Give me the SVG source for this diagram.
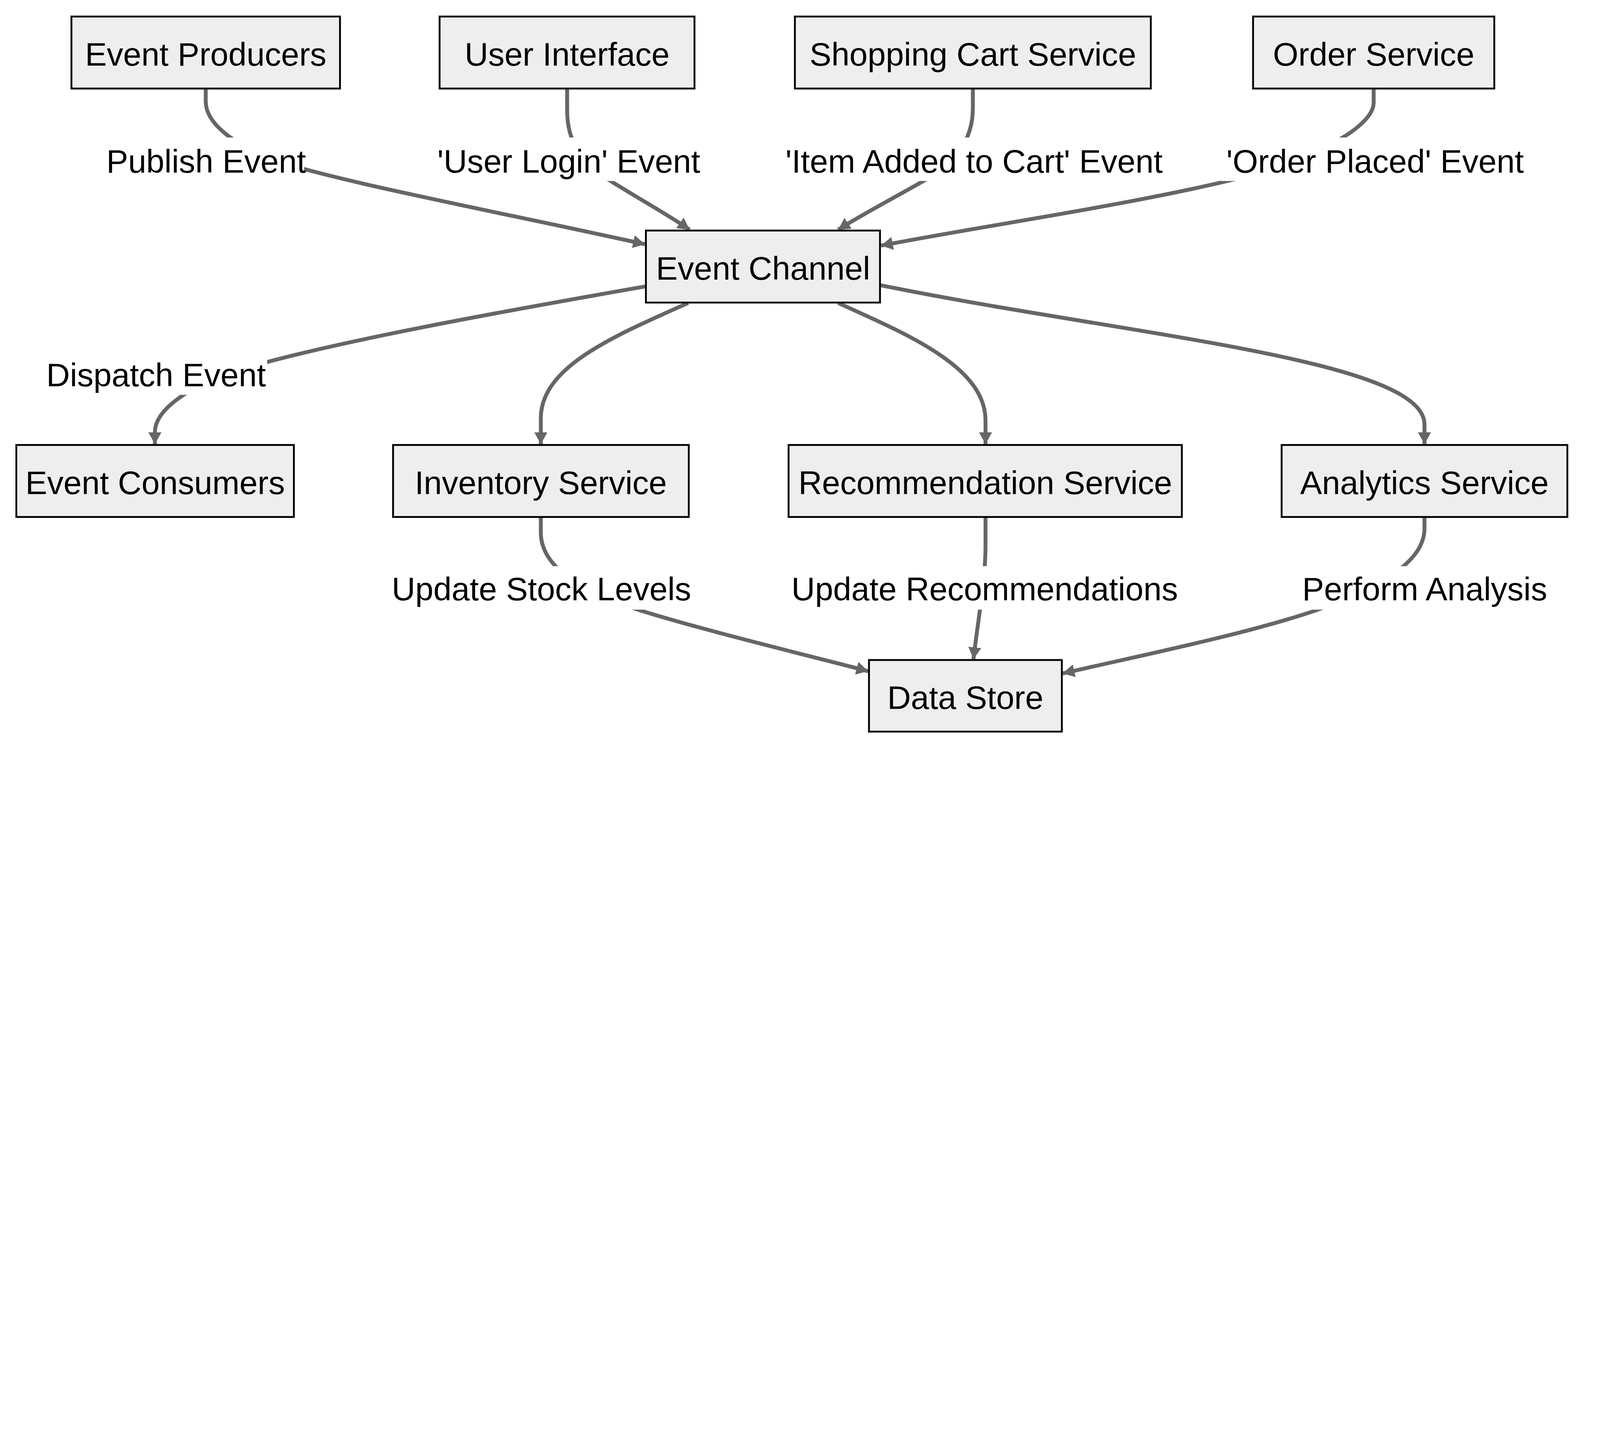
<svg xmlns="http://www.w3.org/2000/svg" width="7840" height="3710" viewBox="0 0 7840 3710" style="width:100%;height:auto">
<defs>
<style>
.node rect{fill:#eeeeee;stroke:#000000;stroke-width:9}
.node text,.lbl text{font-family:"Liberation Sans",Arial,sans-serif;font-size:160px;fill:#000;text-anchor:middle}
.edge{fill:none;stroke:#666666;stroke-width:19}
.lbl rect{fill:#ffffff;stroke:none}
</style>
<marker id="arrow" viewBox="0 0 10 10" refX="10" refY="5" markerWidth="58" markerHeight="64" markerUnits="userSpaceOnUse" orient="auto" preserveAspectRatio="none">
<path d="M0,0 L10,5 L0,10 z" fill="#666666"/>
</marker>
</defs>
<rect width="7840" height="3710" fill="#ffffff"/>
<g id="connectors">
<path class="edge" marker-end="url(#arrow)" d="M1008,435 L1008,497 C1008,610 1150,700 1300,770 C1600,880 2400,1030 3160,1197"/>
<path class="edge" marker-end="url(#arrow)" d="M2779,435 L2779,540 C2779,700 2850,800 3000,892 C3150,985 3300,1070 3379,1126"/>
<path class="edge" marker-end="url(#arrow)" d="M4767,435 L4767,530 C4767,690 4680,800 4520,890 C4380,970 4200,1065 4107,1126"/>
<path class="edge" marker-end="url(#arrow)" d="M6731,435 L6731,503 C6731,620 6450,780 6024,885 C5500,1010 4800,1110 4317,1204"/>
<path class="edge" marker-end="url(#arrow)" d="M3162,1404 C2500,1520 1600,1680 1150,1820 C950,1885 759,2000 759,2118 L759,2177"/>
<path class="edge" marker-end="url(#arrow)" d="M3372,1485 C3000,1650 2650,1800 2650,2050 L2650,2177"/>
<path class="edge" marker-end="url(#arrow)" d="M4107,1485 C4450,1640 4829,1800 4829,2060 L4829,2177"/>
<path class="edge" marker-end="url(#arrow)" d="M4315,1398 C5500,1640 6980,1760 6980,2080 L6980,2177"/>
<path class="edge" marker-end="url(#arrow)" d="M2650,2536 L2650,2610 C2650,2780 2850,2900 3135,2991 C3450,3090 3950,3210 4254,3290"/>
<path class="edge" marker-end="url(#arrow)" d="M4829,2536 L4829,2670 C4829,2850 4790,3050 4770,3231"/>
<path class="edge" marker-end="url(#arrow)" d="M6980,2536 L6980,2590 C6980,2760 6750,2880 6451,2991 C6100,3110 5600,3210 5207,3301"/>
<g class="lbl"><rect x="530" y="674" width="960" height="213"/><text x="1010" y="846">Publish Event</text></g>
<g class="lbl"><rect x="2120" y="674" width="1334" height="213"/><text x="2787" y="846">'User Login' Event</text></g>
<g class="lbl"><rect x="3770" y="674" width="2006" height="213"/><text x="4773" y="846">'Item Added to Cart' Event</text></g>
<g class="lbl"><rect x="5981" y="674" width="1514" height="213"/><text x="6738" y="846">'Order Placed' Event</text></g>
<g class="lbl"><rect x="220" y="1722" width="1089" height="213"/><text x="765" y="1894">Dispatch Event</text></g>
<g class="lbl"><rect x="1913" y="2775" width="1481" height="213"/><text x="2653" y="2943">Update Stock Levels</text></g>
<g class="lbl"><rect x="3901" y="2775" width="1847" height="213"/><text x="4825" y="2943">Update Recommendations</text></g>
<g class="lbl"><rect x="6361" y="2775" width="1240" height="213"/><text x="6981" y="2943">Perform Analysis</text></g>
</g>
<g id="node-event-producers" class="node"><rect x="350" y="81" width="1316" height="353"/><text x="1008" y="321">Event Producers</text></g>
<g id="node-user-interface" class="node"><rect x="2154" y="81" width="1249" height="353"/><text x="2779" y="321">User Interface</text></g>
<g id="node-shopping-cart" class="node"><rect x="3895" y="81" width="1744" height="353"/><text x="4767" y="321">Shopping Cart Service</text></g>
<g id="node-order-service" class="node"><rect x="6140" y="81" width="1182" height="353"/><text x="6731" y="321">Order Service</text></g>
<g id="node-event-channel" class="node"><rect x="3165" y="1130" width="1147" height="353"/><text x="3739" y="1371">Event Channel</text></g>
<g id="node-event-consumers" class="node"><rect x="80" y="2181" width="1360" height="353"/><text x="760" y="2422">Event Consumers</text></g>
<g id="node-inventory" class="node"><rect x="1926" y="2181" width="1449" height="353"/><text x="2650" y="2422">Inventory Service</text></g>
<g id="node-recommendation" class="node"><rect x="3864" y="2181" width="1927" height="353"/><text x="4828" y="2422">Recommendation Service</text></g>
<g id="node-analytics" class="node"><rect x="6280" y="2181" width="1400" height="353"/><text x="6980" y="2422">Analytics Service</text></g>
<g id="node-data-store" class="node"><rect x="4258" y="3235" width="945" height="351"/><text x="4730" y="3475">Data Store</text></g>
</svg>
